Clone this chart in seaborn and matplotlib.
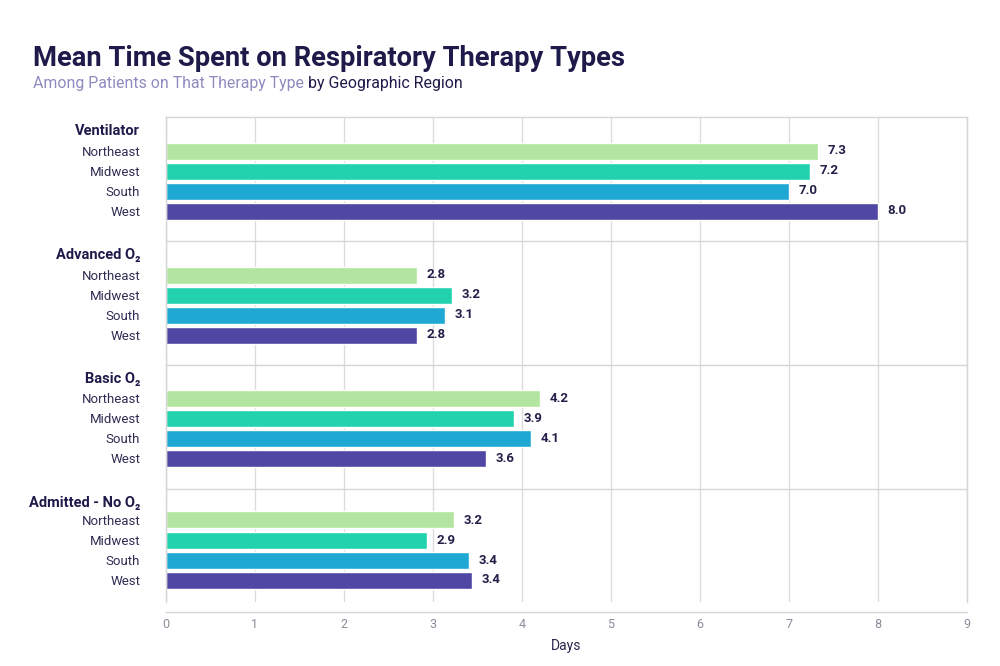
import pandas as pd
import matplotlib
matplotlib.use("Agg")
import matplotlib.pyplot as plt
import seaborn as sns

# ---- data ----
groups = ["Ventilator", "Advanced O\u2082", "Basic O\u2082", "Admitted - No O\u2082"]
regions = ["Northeast", "Midwest", "South", "West"]
ventilator = [7.33, 7.24, 7.00, 8.00]
advanced_o2 = [2.82, 3.21, 3.13, 2.82]
basic_o2 = [4.20, 3.91, 4.10, 3.60]
admitted_no_o2 = [3.24, 2.93, 3.40, 3.44]
x_ticks = [0, 1, 2, 3, 4, 5, 6, 7, 8, 9]

series = [ventilator, advanced_o2, basic_o2, admitted_no_o2]
rows = []
for g, vals in zip(groups, series):
    for r, v in zip(regions, vals):
        rows.append({"group": g, "region": r, "days": v})
df = pd.DataFrame(rows)

colors = ["#b2e59f", "#22d1ad", "#1fa8d4", "#5046a4"]
palette = dict(zip(regions, colors))

sns.set_theme(style="white")
plt.rcParams["font.family"] = ["Roboto", "DejaVu Sans"]

DARK = "#1e1a4a"
GRID = "#dcdcdc"

fig = plt.figure(figsize=(10, 6.66), dpi=100)
heights = [124, 124, 124, 113]
tops = [-1.7, -1.7, -1.65, -1.55]
gs = fig.add_gridspec(4, 1, height_ratios=heights, hspace=0,
                      left=0.166, right=0.967,
                      top=1 - 117 / 666, bottom=1 - 602 / 666)
axes = []
for i, (g, h) in enumerate(zip(groups, heights)):
    ax = fig.add_subplot(gs[i], sharex=axes[0] if axes else None)
    axes.append(ax)
    sub = df[df["group"] == g]
    sns.barplot(data=sub, y="region", x="days", hue="region", order=regions,
                hue_order=regions, palette=palette, width=0.85, dodge=False,
                legend=False, errorbar=None, orient="h", ax=ax, saturation=1)
    ax.set_xlim(0, 9)
    ax.set_ylim(tops[i] + h / 20, tops[i])
    ax.set_xticks(x_ticks)
    ax.grid(axis="x", color=GRID, lw=1)
    ax.set_axisbelow(True)
    ax.set_ylabel("")
    ax.set_xlabel("")
    ax.tick_params(axis="y", length=0, pad=18.5, labelsize=9.5, labelcolor="#2f2d52")
    for s in ax.spines.values():
        s.set_color("#d6d6d6")
        s.set_linewidth(1)
    for c in ax.containers:
        ax.bar_label(c, fmt="%.1f", padding=7, fontsize=9.5, fontweight="bold", color="#23204a")
    ax.annotate(g, xy=(0, tops[i] + 0.7), xycoords=ax.get_yaxis_transform(),
                xytext=(-18.5, 0), textcoords="offset points",
                ha="right", va="center", fontweight="bold", fontsize=10.5, color=DARK)
    if i < 3:
        ax.spines["bottom"].set_visible(False)
        ax.tick_params(axis="x", bottom=False, labelbottom=False)
    else:
        ax.spines["bottom"].set_position(("outward", 7.5))
        ax.tick_params(axis="x", length=0, pad=4, labelsize=9, labelcolor="#8b8b9b")
        ax.set_xlabel("Days", fontsize=10, color="#2a2750", labelpad=6)

fig.text(0.033, 1 - 66 / 666, "Mean Time Spent on Respiratory Therapy Types",
         fontsize=19.7, fontweight="bold", color=DARK, va="baseline")
t1 = fig.text(0.033, 1 - 88 / 666, "Among Patients on That Therapy Type",
              fontsize=11.4, color="#8d8bc0", va="baseline")
axes[0].annotate(" by Geographic Region", xy=(1, 0), xycoords=t1, va="bottom",
                 ha="left", fontsize=11.4, color=DARK, annotation_clip=False)

fig.savefig("out.png", dpi=100)
